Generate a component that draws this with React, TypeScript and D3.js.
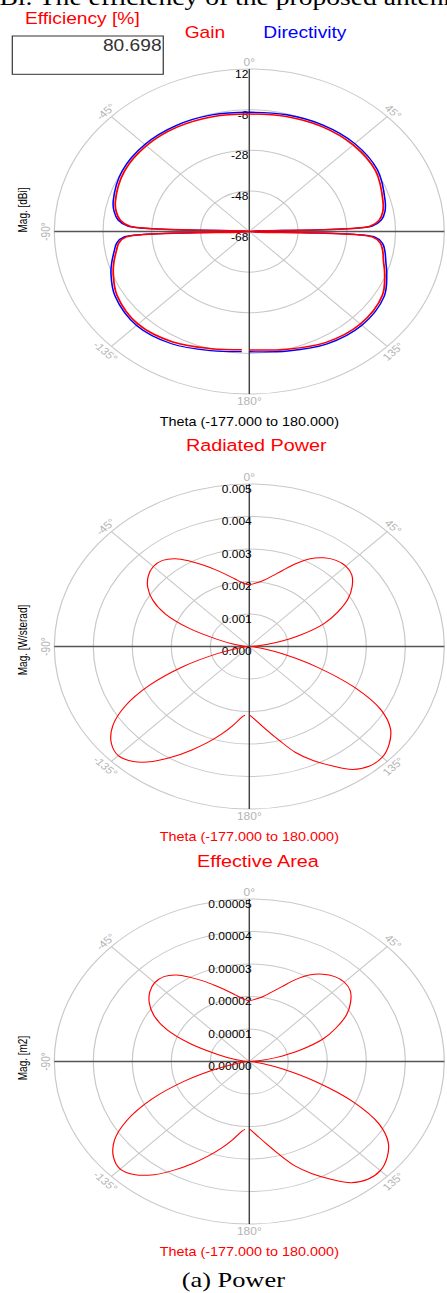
import React from 'react';
import * as d3 from 'd3';

// the source picture is stretched sideways, so everything is drawn in
// unstretched units and scaled by SX at the end
const SX = 1.2;
const W = 447;
const H = 1293;
const CX = 249.3 / SX;
const R = 162.5;

// ---- chart 1: gain / directivity in dBi
const gainAngles = [-177, -165, -150, -135, -120, -110, -105, -100, -96, -93, -90, -87, -84, -80, -75, -60, -45, -30, -15, 0,
  15, 30, 45, 60, 75, 80, 84, 87, 90, 93, 96, 100, 105, 110, 120, 135, 150, 165, 180];
const gainDb = [-9.7, -8.3, -5.2, -3.5, -5.3, -8.6, -10.5, -12.6, -14.2, -17.5, -68, -19.0, -14.8, -12.6, -11.1, -8.8, -8.3, -8.7, -9.5, -10.2,
  -9.4, -8.4, -7.7, -8.2, -11.2, -12.4, -14.4, -18.4, -68, -17.5, -14.0, -12.4, -11.0, -8.9, -5.0, -3.6, -5.0, -8.0, -9.7];
const directivityDb = [-8.8, -7.3, -4.2, -2.6, -4.4, -7.6, -9.6, -11.7, -13.3, -16.6, -68, -18.1, -13.9, -11.7, -10.2, -7.9, -7.4, -7.8, -8.6, -9.3,
  -8.5, -7.5, -6.8, -7.3, -10.3, -11.5, -13.5, -17.5, -68, -16.6, -13.1, -11.5, -10.0, -8.0, -4.1, -2.7, -4.1, -7.1, -8.8];
const dbTicks = [-68, -48, -28, -8, 12];
const dbTickLabels = ['-68', '-48', '-28', '-8', '12'];

// ---- charts 2 and 3
const thetaAngles = [-177, -175, -170, -165, -160, -155, -150, -145, -140, -135, -130, -125, -120, -115, -110, -105, -100, -95, -90,
  -85, -80, -75, -70, -65, -60, -55, -50, -45, -40, -35, -30, -25, -20, -15, -10, -5, 0,
  5, 10, 15, 20, 25, 30, 35, 40, 45, 50, 55, 60, 65, 70, 75, 80, 85, 90,
  95, 100, 105, 110, 115, 120, 125, 130, 135, 140, 145, 150, 155, 160, 165, 170, 175, 180];
const radiatedPower = [0.00212, 0.00218, 0.00248, 0.0028, 0.00315, 0.00352, 0.00392, 0.00432, 0.00462, 0.00475, 0.00462, 0.00428, 0.00368, 0.00282, 0.0018, 0.00085, 0.0003, 0.00008, 0.00002,
  0.00012, 0.0004, 0.00085, 0.00165, 0.00238, 0.00286, 0.00318, 0.00338, 0.00348, 0.00346, 0.0033, 0.00303, 0.00276, 0.00251, 0.00229, 0.00211, 0.00197, 0.0019,
  0.00196, 0.00206, 0.00224, 0.00249, 0.00281, 0.00312, 0.00333, 0.00346, 0.0035, 0.00343, 0.00322, 0.00292, 0.0025, 0.00203, 0.00136, 0.0007, 0.00024, 0.00003,
  0.0001, 0.00035, 0.0009, 0.00185, 0.00298, 0.0039, 0.00442, 0.00468, 0.00482, 0.0048, 0.00462, 0.00424, 0.00387, 0.00347, 0.003, 0.00262, 0.00232, 0.0021];
const powerTicks = [0, 0.001, 0.002, 0.003, 0.004, 0.005];
const powerTickLabels = ['0.000', '0.001', '0.002', '0.003', '0.004', '0.005'];

const effectiveArea = [2.09e-5, 2.15e-5, 2.44e-5, 2.76e-5, 3.1e-5, 3.47e-5, 3.86e-5, 4.25e-5, 4.55e-5, 4.68e-5, 4.55e-5, 4.22e-5, 3.62e-5, 2.78e-5, 1.77e-5, 0.84e-5, 0.3e-5, 0.08e-5, 0.02e-5,
  0.12e-5, 0.39e-5, 0.84e-5, 1.62e-5, 2.34e-5, 2.82e-5, 3.13e-5, 3.33e-5, 3.43e-5, 3.41e-5, 3.25e-5, 2.98e-5, 2.72e-5, 2.47e-5, 2.26e-5, 2.08e-5, 1.94e-5, 1.87e-5,
  1.93e-5, 2.03e-5, 2.21e-5, 2.45e-5, 2.77e-5, 3.07e-5, 3.28e-5, 3.41e-5, 3.45e-5, 3.38e-5, 3.17e-5, 2.88e-5, 2.46e-5, 2.0e-5, 1.34e-5, 0.69e-5, 0.24e-5, 0.03e-5,
  0.1e-5, 0.34e-5, 0.89e-5, 1.82e-5, 2.94e-5, 3.84e-5, 4.35e-5, 4.61e-5, 4.75e-5, 4.73e-5, 4.55e-5, 4.18e-5, 3.81e-5, 3.42e-5, 2.96e-5, 2.58e-5, 2.29e-5, 2.07e-5];
const areaTicks = [0, 0.00001, 0.00002, 0.00003, 0.00004, 0.00005];
const areaTickLabels = ['0.00000', '0.00001', '0.00002', '0.00003', '0.00004', '0.00005'];

const angleTicks = [0, 45, 90, 135, 180, -135, -90, -45];
const angleTickLabels = ['0°', '45°', '90°', '135°', '180°', '-135°', '-90°', '-45°'];

const SANS = '"Liberation Sans", Arial, sans-serif';
const SERIF = '"Liberation Serif", "Times New Roman", serif';
const RED = '#ff0000';
const BLUE = '#0000ff';

type Series = { angles: number[]; values: number[]; color: string; width: number };

const rad = (a: number) => (a * Math.PI) / 180;

function Polar({ cy, ticks, tickLabels, tickX, tickDy, series, magLabel, magY, thetaColor }: {
  cy: number; ticks: number[]; tickLabels: string[]; tickX: number; tickDy: number;
  series: Series[]; magLabel: string; magY: number; thetaColor: string;
}) {
  const r = d3.scaleLinear().domain([ticks[0], ticks[ticks.length - 1]]).range([0, R]).clamp(true);
  const line = d3.lineRadial<[number, number]>()
    .angle(d => rad(d[0]))
    .radius(d => r(d[1]))
    .curve(d3.curveCatmullRom.alpha(0.5));

  return (
    <g>
      <g transform={`translate(${CX},${cy})`}>
        {ticks.slice(1).map(t => (
          <circle key={t} r={r(t)} fill="none" stroke="#c8c8c8" strokeWidth={1} />
        ))}
        {[45, -45].map(a => (
          <line key={a} x1={R * Math.sin(rad(a))} y1={-R * Math.cos(rad(a))}
            x2={-R * Math.sin(rad(a))} y2={R * Math.cos(rad(a))} stroke="#c8c8c8" strokeWidth={1} />
        ))}
        <line x1={-R} x2={R} y1={0} y2={0} stroke="#555" strokeWidth={1.4} />
        <line x1={0} x2={0} y1={-R} y2={R} stroke="#444" strokeWidth={1.2} />
        {angleTicks.map((a, i) => {
          const x = (R + 7) * Math.sin(rad(a));
          const y = -(R + 7) * Math.cos(rad(a));
          const rot = a > 90 ? a - 180 : a < -90 ? a + 180 : a;
          return (
            <text key={a} x={x} y={y} transform={`rotate(${rot},${x},${y})`} textAnchor="middle"
              dominantBaseline="central" fontSize={10} fill="#b4b4b4">{angleTickLabels[i]}</text>
          );
        })}
        {ticks.map((t, i) => (
          <text key={t} x={tickX} y={-r(t) + tickDy} textAnchor="end" fontSize={10} fill="#000">{tickLabels[i]}</text>
        ))}
        {series.map((s, i) => (
          <path key={i} d={line(d3.zip(s.angles, s.values) as [number, number][]) || ''}
            fill="none" stroke={s.color} strokeWidth={s.width} strokeLinejoin="round" />
        ))}
      </g>
      <text x={18.75} y={magY} transform={`rotate(-90,18.75,${magY})`} textAnchor="middle"
        dominantBaseline="central" fontSize={10} fill="#000">{magLabel}</text>
      <text x={CX} y={cy + 195} textAnchor="middle" fontSize={12} fill={thetaColor}>Theta (-177.000 to 180.000)</text>
    </g>
  );
}

export default function App() {
  return (
    <svg width={W} height={H} style={{ position: 'absolute', left: 0, top: 0, background: '#fff' }}
      fontFamily={SANS}>
      <g transform={`scale(${SX},1)`}>
        <text x={-12} y={5} fontFamily={SERIF} fontSize={23} fill="#000">dBi. The efficiency of the proposed antenna</text>

        <text x={20.8} y={24} fontSize={16} fill={RED}>Efficiency [%]</text>
        <rect x={10.25} y={36} width={125.8} height={38.3} fill="none" stroke="#333" strokeWidth={1} />
        <text x={134.7} y={51} textAnchor="end" fontSize={16} fill="#333">80.698</text>
        <text x={153.9} y={37.7} fontSize={16} fill={RED}>Gain</text>
        <text x={219.4} y={37.7} fontSize={16} fill={BLUE}>Directivity</text>

        <Polar cy={231.5} ticks={dbTicks} tickLabels={dbTickLabels} tickX={-0.8} tickDy={9}
          series={[
            { angles: gainAngles, values: directivityDb, color: BLUE, width: 1.3 },
            { angles: gainAngles, values: gainDb, color: RED, width: 1.5 },
          ]}
          magLabel="Mag. [dBi]" magY={210} thetaColor="#000" />

        <text x={213.6} y={451.5} textAnchor="middle" fontSize={16.5} fill={RED}>Radiated Power</text>
        <Polar cy={646.5} ticks={powerTicks} tickLabels={powerTickLabels} tickX={2} tickDy={8.5}
          series={[{ angles: thetaAngles, values: radiatedPower, color: RED, width: 1 }]}
          magLabel="Mag. [W/sterad]" magY={640} thetaColor={RED} />

        <text x={215} y={866.7} textAnchor="middle" fontSize={16.5} fill={RED}>Effective Area</text>
        <Polar cy={1061.5} ticks={areaTicks} tickLabels={areaTickLabels} tickX={2} tickDy={8.5}
          series={[{ angles: thetaAngles, values: effectiveArea, color: RED, width: 1 }]}
          magLabel="Mag. [m2]" magY={1058} thetaColor={RED} />

        <text x={194.4} y={1287.5} textAnchor="middle" fontFamily={SERIF} fontSize={22} fill="#000">(a) Power</text>
      </g>
    </svg>
  );
}
